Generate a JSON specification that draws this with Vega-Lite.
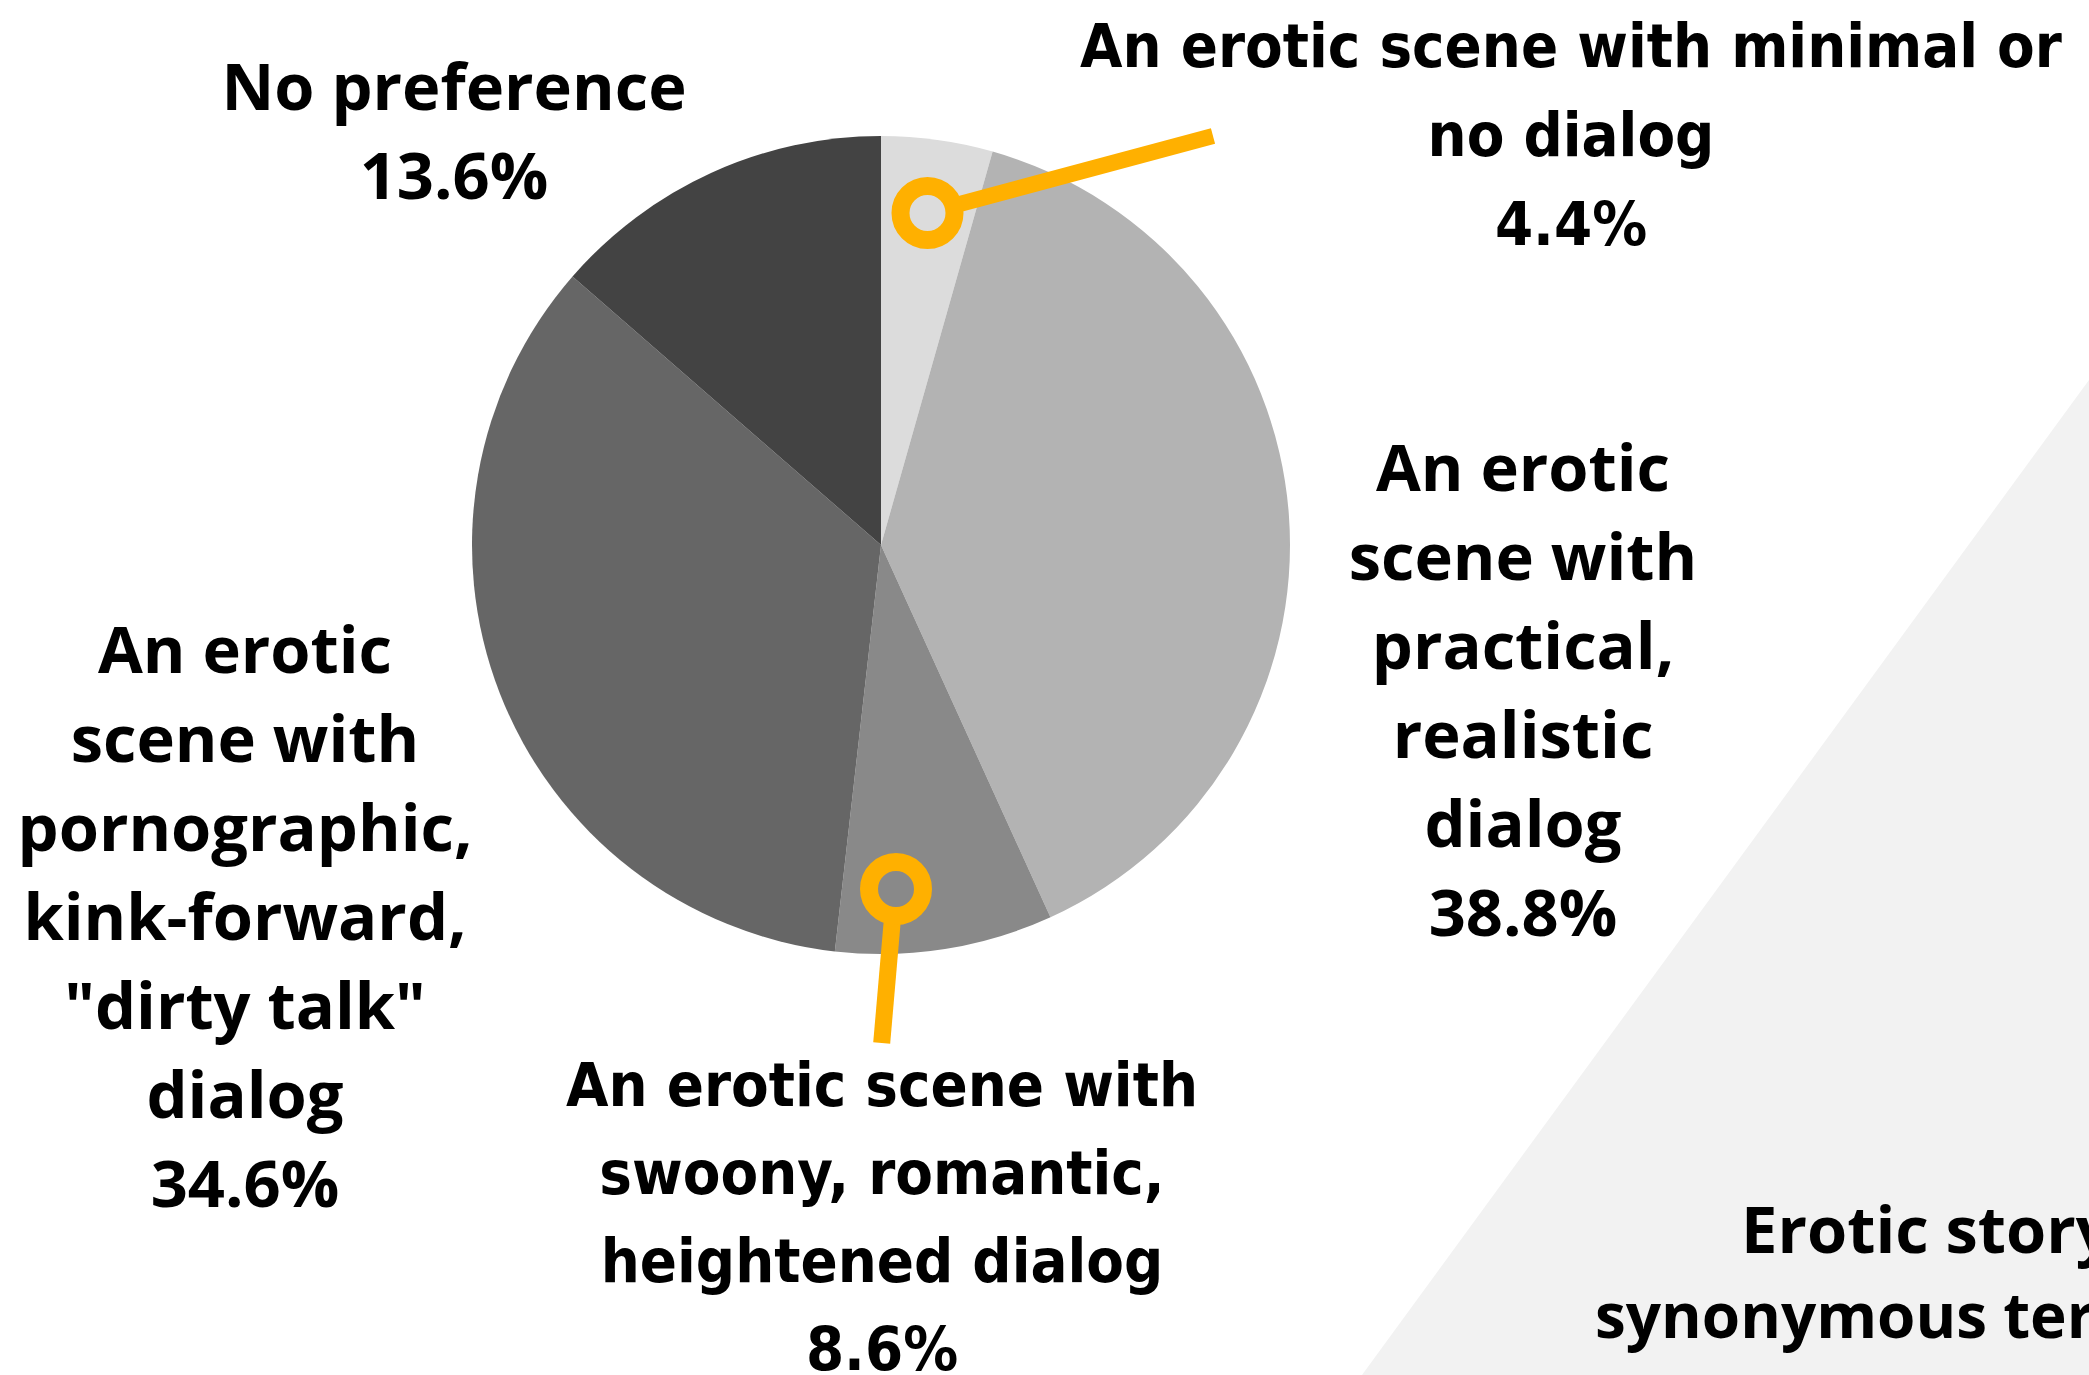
{
  "$schema": "https://vega.github.io/schema/vega-lite/v6.json",
  "width": 2089,
  "height": 1375,
  "autosize": {"type": "fit", "contains": "padding"},
  "padding": 0,
  "background": "white",
  "config": {"view": {"stroke": null}},
  "data": {"values": [
    {"category": "An erotic scene with minimal or no dialog", "value": 4.4, "order": 1},
    {"category": "An erotic scene with practical, realistic dialog", "value": 38.8, "order": 2},
    {"category": "An erotic scene with swoony, romantic, heightened dialog", "value": 8.6, "order": 3},
    {"category": "An erotic scene with pornographic, kink-forward, \"dirty talk\" dialog", "value": 34.6, "order": 4},
    {"category": "No preference", "value": 13.6, "order": 5}
  ]},
  "layer": [
    {
      "data": {"values": [{"px": 1362, "py": 1375}, {"px": 2089, "py": 380}]},
      "mark": {"type": "area", "color": "#f2f2f2", "orient": "vertical"},
      "encoding": {
        "x": {"field": "px", "type": "quantitative", "scale": {"domain": [0, 2089], "nice": false, "zero": false}, "axis": null},
        "y": {"field": "py", "type": "quantitative", "scale": {"domain": [0, 1375], "reverse": true, "nice": false, "zero": false}, "axis": null},
        "y2": {"datum": 1375}
      }
    },
    {
      "mark": {"type": "arc", "outerRadius": 409},
      "encoding": {
        "theta": {"field": "value", "type": "quantitative", "stack": true},
        "order": {"field": "order", "type": "quantitative"},
        "color": {"field": "category", "type": "nominal", "legend": null,
          "scale": {"domain": [
            "An erotic scene with minimal or no dialog",
            "An erotic scene with practical, realistic dialog",
            "An erotic scene with swoony, romantic, heightened dialog",
            "An erotic scene with pornographic, kink-forward, \"dirty talk\" dialog",
            "No preference"],
            "range": ["#dcdcdc", "#b3b3b3", "#898989", "#666666", "#434343"]}},
        "x": {"datum": 881, "type": "quantitative", "axis": null},
        "y": {"datum": 545, "type": "quantitative", "axis": null}
      }
    },
    {
      "data": {"values": [{}]},
      "mark": {"type": "rule", "color": "#ffb000", "strokeWidth": 16, "strokeCap": "butt"},
      "encoding": {
        "x": {"datum": 956, "type": "quantitative", "axis": null},
        "y": {"datum": 205, "type": "quantitative", "axis": null},
        "x2": {"datum": 1213},
        "y2": {"datum": 136}
      }
    },
    {
      "data": {"values": [{}]},
      "mark": {"type": "rule", "color": "#ffb000", "strokeWidth": 17, "strokeCap": "butt"},
      "encoding": {
        "x": {"datum": 892.5, "type": "quantitative", "axis": null},
        "y": {"datum": 918, "type": "quantitative", "axis": null},
        "x2": {"datum": 881.7},
        "y2": {"datum": 1043}
      }
    },
    {
      "data": {"values": [{}]},
      "mark": {"type": "point", "shape": "circle", "filled": false, "size": 2916, "strokeWidth": 18, "color": "#ffb000", "opacity": 1},
      "encoding": {
        "x": {"datum": 927.5, "type": "quantitative", "axis": null},
        "y": {"datum": 213, "type": "quantitative", "axis": null}
      }
    },
    {
      "data": {"values": [{}]},
      "mark": {"type": "point", "shape": "circle", "filled": false, "size": 2916, "strokeWidth": 18, "color": "#ffb000", "opacity": 1},
      "encoding": {
        "x": {"datum": 896, "type": "quantitative", "axis": null},
        "y": {"datum": 889, "type": "quantitative", "axis": null}
      }
    },
    {
      "data": {"values": [{}]},
      "mark": {"type": "text", "font": "Open Sans", "fontWeight": 700, "fontSize": 65, "lineHeight": 89, "align": "center", "baseline": "alphabetic", "color": "#000000"},
      "encoding": {
        "x": {"datum": 454, "type": "quantitative", "axis": null},
        "y": {"datum": 110, "type": "quantitative", "axis": null},
        "text": {"value": ["No preference", "13.6%"]}
      }
    },
    {
      "data": {"values": [{}]},
      "mark": {"type": "text", "font": "Open Sans", "fontWeight": 700, "fontSize": 65, "lineHeight": 89, "align": "center", "baseline": "alphabetic", "color": "#000000"},
      "encoding": {
        "x": {"datum": 1523, "type": "quantitative", "axis": null},
        "y": {"datum": 491, "type": "quantitative", "axis": null},
        "text": {"value": ["An erotic", "scene with", "practical,", "realistic", "dialog", "38.8%"]}
      }
    },
    {
      "data": {"values": [{}]},
      "mark": {"type": "text", "font": "Open Sans", "fontWeight": 700, "fontSize": 65, "lineHeight": 89, "align": "center", "baseline": "alphabetic", "color": "#000000"},
      "encoding": {
        "x": {"datum": 245, "type": "quantitative", "axis": null},
        "y": {"datum": 673, "type": "quantitative", "axis": null},
        "text": {"value": ["An erotic", "scene with", "pornographic,", "kink-forward,", "\"dirty talk\"", "dialog", "34.6%"]}
      }
    },
    {
      "data": {"values": [{}]},
      "mark": {"type": "text", "font": "DejaVu Sans Condensed", "fontWeight": 700, "fontSize": 61, "lineHeight": 88, "align": "center", "baseline": "alphabetic", "color": "#000000", "clip": true},
      "encoding": {
        "x": {"datum": 882, "type": "quantitative", "axis": null},
        "y": {"datum": 1106, "type": "quantitative", "axis": null},
        "text": {"value": ["An erotic scene with", "swoony, romantic,", "heightened dialog", "8.6%"]}
      }
    },
    {
      "data": {"values": [{}]},
      "mark": {"type": "text", "font": "DejaVu Sans Condensed", "fontWeight": 700, "fontSize": 61, "lineHeight": 89, "align": "center", "baseline": "alphabetic", "color": "#000000"},
      "encoding": {
        "x": {"datum": 1571, "type": "quantitative", "axis": null},
        "y": {"datum": 67, "type": "quantitative", "axis": null},
        "text": {"value": ["An erotic scene with minimal or", "no dialog", "4.4%"]}
      }
    },
    {
      "data": {"values": [{}]},
      "mark": {"type": "text", "font": "Open Sans", "fontWeight": 700, "fontSize": 65, "align": "left", "baseline": "alphabetic", "color": "#000000", "clip": true},
      "encoding": {
        "x": {"datum": 1741, "type": "quantitative", "axis": null},
        "y": {"datum": 1253, "type": "quantitative", "axis": null},
        "text": {"value": "Erotic story"}
      }
    },
    {
      "data": {"values": [{}]},
      "mark": {"type": "text", "font": "Open Sans", "fontWeight": 700, "fontSize": 62, "align": "left", "baseline": "alphabetic", "color": "#000000", "clip": true},
      "encoding": {
        "x": {"datum": 1595, "type": "quantitative", "axis": null},
        "y": {"datum": 1338, "type": "quantitative", "axis": null},
        "text": {"value": "synonymous terms"}
      }
    }
  ]
}
